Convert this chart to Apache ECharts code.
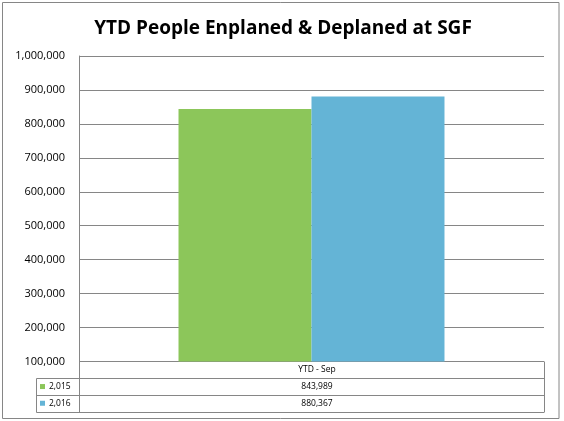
<!DOCTYPE html>
<html>
<head>
<meta charset="utf-8">
<script src="https://cdn.jsdelivr.net/npm/echarts@6/dist/echarts.min.js"></script>
<style>
html,body{margin:0;padding:0;background:#fff;}
#chart{width:564px;height:421px;}
</style>
</head>
<body>
<div id="chart"></div>
<script>
const titleText = 'YTD People Enplaned & Deplaned at SGF';
const categories = ['YTD - Sep'];
const seriesNames = ['2,015', '2,016'];
const values2015 = [843989];
const values2016 = [880367];
const seriesColors = ['#8CC65A', '#64B4D6'];

const chart = echarts.init(document.getElementById('chart'), null, {renderer: 'canvas'});

// layout constants
const L = 79, R = 544, T = 56, B = 361.5;
const tblLeft = 36.5, rowH = 16.7;
const lineColor = '#868686';
const font = 'Open Sans';
const cellCx = 317;

const fmt = v => v.toLocaleString('en-US');
const allValues = [values2015, values2016];

const graphics = [];
// outer border
graphics.push({type:'rect', shape:{x:2.5, y:2.5, width:556.5, height:416}, style:{fill:null, stroke:lineColor, lineWidth:1}, silent:true});
// table lines
const rows = 1 + seriesNames.length;
for (let i = 1; i <= rows; i++) {
  const y = Math.round(B + i * rowH) + 0.5;
  graphics.push({type:'line', shape:{x1:tblLeft, y1:y, x2:R, y2:y}, style:{stroke:lineColor, lineWidth:1}});
}
const yBot = Math.round(B + rows * rowH) + 0.5;
const yRow1 = Math.round(B + rowH) + 0.5;
graphics.push({type:'line', shape:{x1:L+0.5, y1:B, x2:L+0.5, y2:yBot}, style:{stroke:lineColor, lineWidth:1}});
graphics.push({type:'line', shape:{x1:R+0.5, y1:B, x2:R+0.5, y2:yBot}, style:{stroke:lineColor, lineWidth:1}});
graphics.push({type:'line', shape:{x1:tblLeft, y1:yRow1, x2:tblLeft, y2:yBot}, style:{stroke:lineColor, lineWidth:1}});
// header text
graphics.push({type:'text', x:cellCx, y:B + rowH/2, style:{text:categories[0], fontFamily:font, fontSize:8.5, fill:'#000', align:'center', verticalAlign:'middle'}});
// series rows
seriesNames.forEach((name, i) => {
  const cy = B + rowH * (i + 1.5);
  graphics.push({type:'rect', shape:{x:40, y:cy - 2.5, width:5, height:5}, style:{fill:seriesColors[i]}});
  graphics.push({type:'text', x:49, y:cy, style:{text:name, fontFamily:font, fontSize:8.5, fill:'#000', align:'left', verticalAlign:'middle'}});
  graphics.push({type:'text', x:cellCx, y:cy, style:{text:fmt(allValues[i][0]), fontFamily:font, fontSize:8.5, fill:'#000', align:'center', verticalAlign:'middle'}});
});

chart.setOption({
  animation: false,
  backgroundColor: '#fff',
  title: {
    text: titleText,
    left: 278, top: 14, textAlign: 'center',
    textStyle: {fontFamily: font, fontWeight: 'bold', fontSize: 19, color: '#000'}
  },
  grid: {left: L, right: 564 - R, top: T, bottom: 421 - B},
  xAxis: {
    type: 'category',
    data: categories,
    axisLine: {show: false},
    axisTick: {show: false},
    axisLabel: {show: false},
    splitLine: {show: false}
  },
  yAxis: {
    type: 'value',
    min: 100000, max: 1000000, interval: 100000,
    axisLine: {show: true, lineStyle: {color: lineColor}},
    axisTick: {show: false},
    axisLabel: {fontFamily: font, fontSize: 11, color: '#000', margin: 14,
      formatter: v => v.toLocaleString('en-US')},
    splitLine: {show: true, lineStyle: {color: lineColor, width: 1}}
  },
  series: [
    {name: seriesNames[0], type: 'bar', data: values2015, itemStyle: {color: seriesColors[0]}, barGap: '0%', barCategoryGap: '42.8%'},
    {name: seriesNames[1], type: 'bar', data: values2016, itemStyle: {color: seriesColors[1]}, barGap: '0%', barCategoryGap: '42.8%'}
  ],
  graphic: graphics
});
</script>
</body>
</html>
